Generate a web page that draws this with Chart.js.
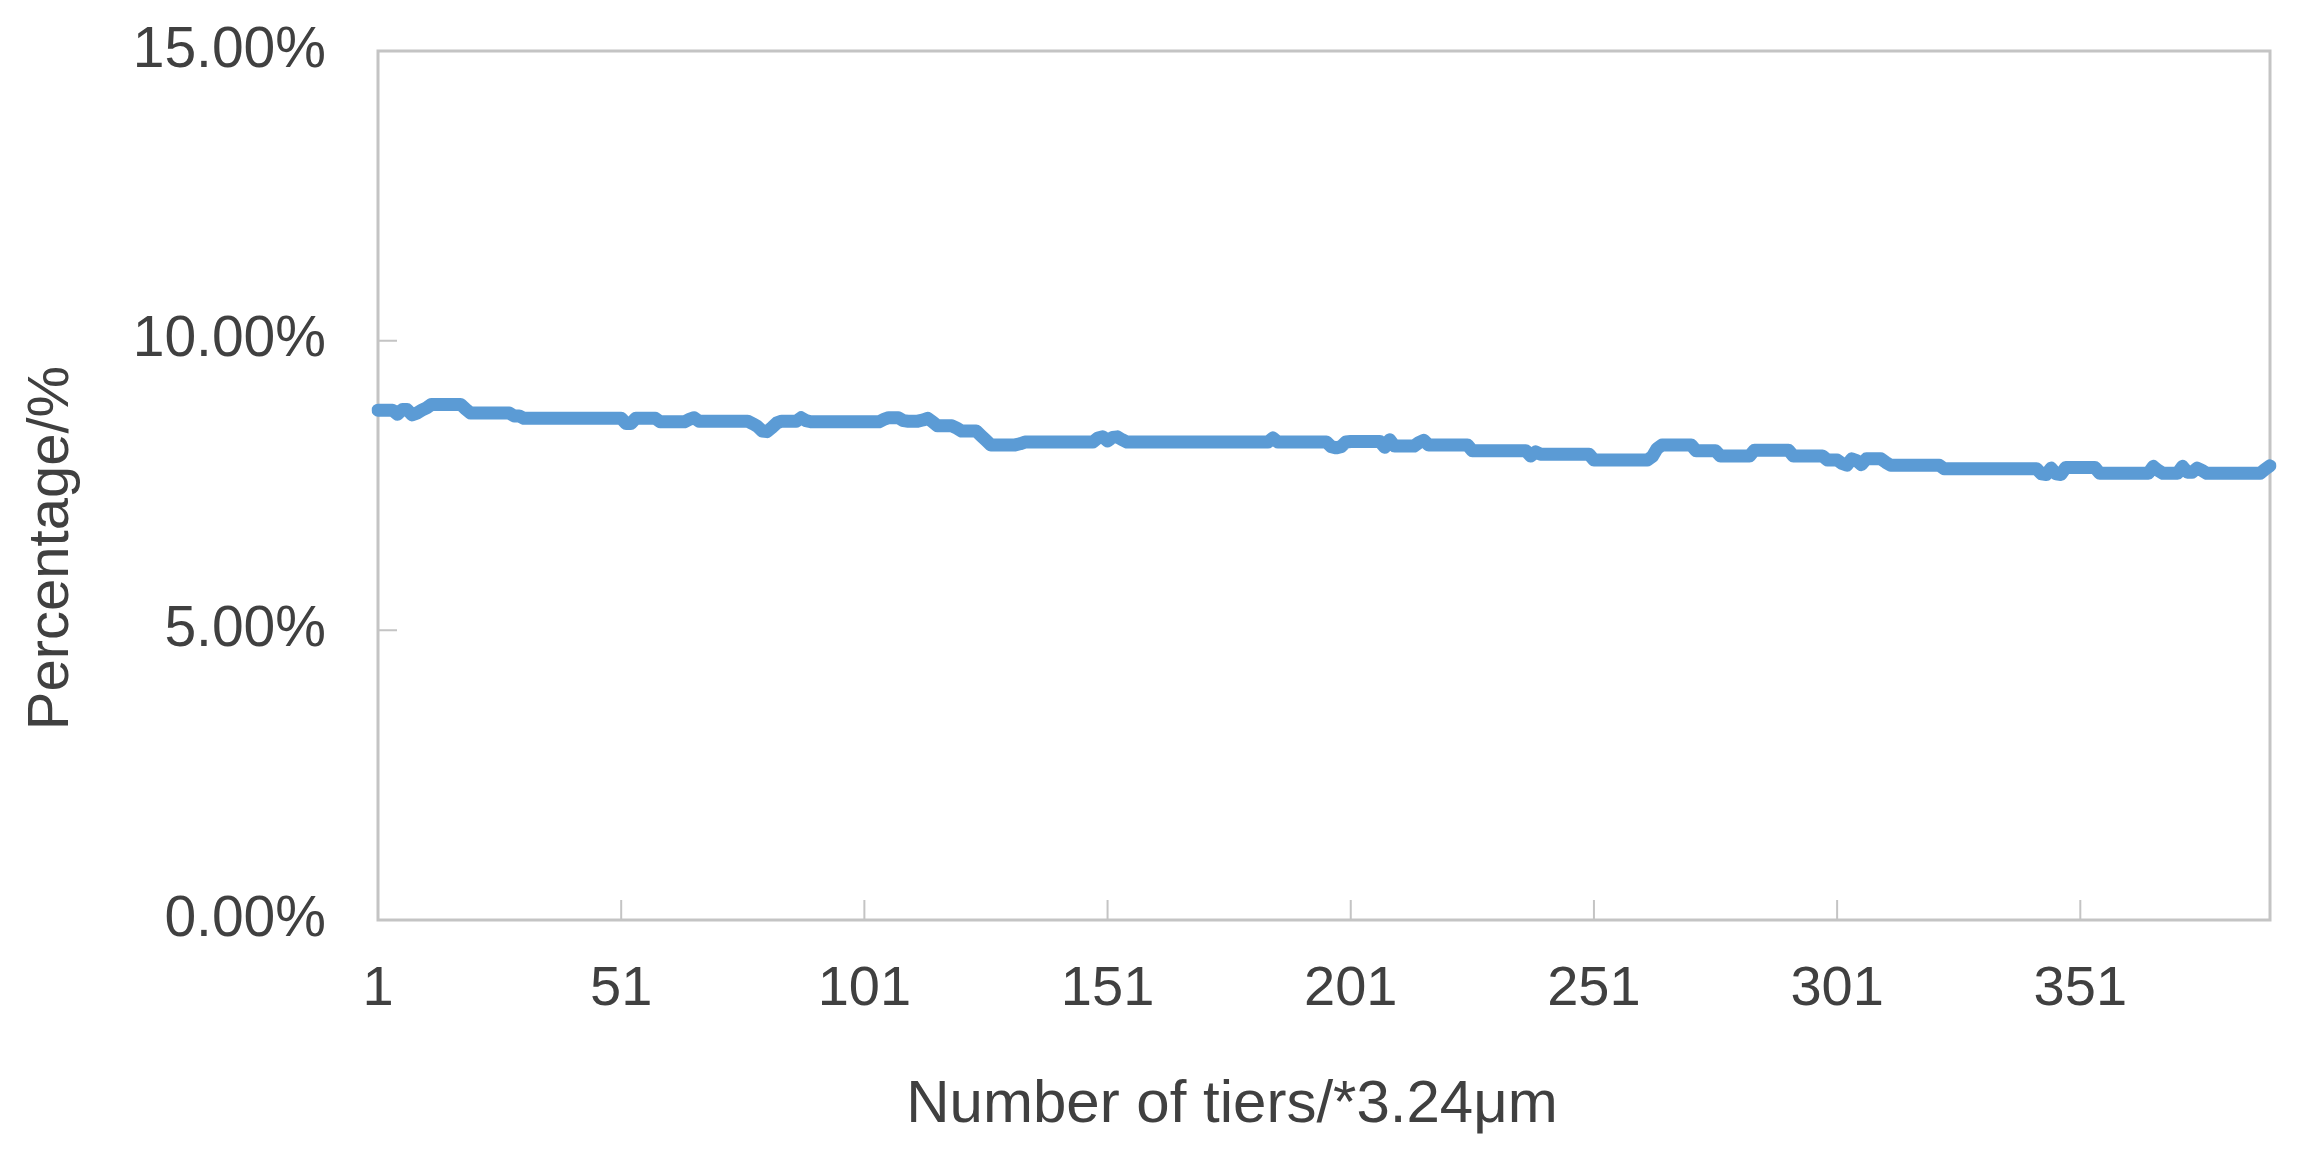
<!DOCTYPE html>
<html>
<head>
<meta charset="utf-8">
<script src="https://cdn.jsdelivr.net/npm/chart.js@4.4.1/dist/chart.umd.min.js"></script>
<style>
  html, body { margin: 0; padding: 0; background: #ffffff; }
  canvas { display: block; }
</style>
</head>
<body>
<canvas id="tiersChart" width="2300" height="1157"></canvas>
<script>
// tier index along the sample (1 .. 390)
const tiers = Array.from({ length: 390 }, (_, i) => String(i + 1));

// percentage per tier
const percentage = [
  8.80, 8.80, 8.80, 8.80, 8.73, 8.81, 8.81, 8.72, 8.75, 8.80,
  8.84, 8.90, 8.90, 8.90, 8.90, 8.90, 8.90, 8.90, 8.82, 8.75,
  8.75, 8.75, 8.75, 8.75, 8.75, 8.75, 8.75, 8.75, 8.70, 8.70,
  8.66, 8.66, 8.66, 8.66, 8.66, 8.66, 8.66, 8.66, 8.66, 8.66,
  8.66, 8.66, 8.66, 8.66, 8.66, 8.66, 8.66, 8.66, 8.66, 8.66,
  8.66, 8.57, 8.57, 8.66, 8.66, 8.66, 8.66, 8.66, 8.60, 8.60,
  8.60, 8.60, 8.60, 8.60, 8.64, 8.67, 8.61, 8.61, 8.61, 8.61,
  8.61, 8.61, 8.61, 8.61, 8.61, 8.61, 8.61, 8.57, 8.52, 8.44,
  8.43, 8.50, 8.58, 8.61, 8.61, 8.61, 8.61, 8.67, 8.62, 8.60,
  8.60, 8.60, 8.60, 8.60, 8.60, 8.60, 8.60, 8.60, 8.60, 8.60,
  8.60, 8.60, 8.60, 8.60, 8.64, 8.67, 8.67, 8.67, 8.62, 8.61,
  8.61, 8.61, 8.63, 8.66, 8.60, 8.53, 8.53, 8.53, 8.53, 8.49,
  8.44, 8.44, 8.44, 8.44, 8.36, 8.28, 8.20, 8.20, 8.20, 8.20,
  8.20, 8.20, 8.22, 8.25, 8.25, 8.25, 8.25, 8.25, 8.25, 8.25,
  8.25, 8.25, 8.25, 8.25, 8.25, 8.25, 8.25, 8.25, 8.32, 8.34,
  8.27, 8.33, 8.34, 8.29, 8.25, 8.25, 8.25, 8.25, 8.25, 8.25,
  8.25, 8.25, 8.25, 8.25, 8.25, 8.25, 8.25, 8.25, 8.25, 8.25,
  8.25, 8.25, 8.25, 8.25, 8.25, 8.25, 8.25, 8.25, 8.25, 8.25,
  8.25, 8.25, 8.25, 8.25, 8.32, 8.25, 8.25, 8.25, 8.25, 8.25,
  8.25, 8.25, 8.25, 8.25, 8.25, 8.25, 8.17, 8.15, 8.17, 8.25,
  8.26, 8.26, 8.26, 8.26, 8.26, 8.26, 8.26, 8.16, 8.29, 8.18,
  8.18, 8.18, 8.18, 8.18, 8.24, 8.28, 8.20, 8.20, 8.20, 8.20,
  8.20, 8.20, 8.20, 8.20, 8.20, 8.10, 8.10, 8.10, 8.10, 8.10,
  8.10, 8.10, 8.10, 8.10, 8.10, 8.10, 8.10, 8.01, 8.08, 8.04,
  8.04, 8.04, 8.04, 8.04, 8.04, 8.04, 8.04, 8.04, 8.04, 8.04,
  7.94, 7.94, 7.94, 7.94, 7.94, 7.94, 7.94, 7.94, 7.94, 7.94,
  7.94, 7.94, 8.00, 8.14, 8.20, 8.20, 8.20, 8.20, 8.20, 8.20,
  8.20, 8.10, 8.10, 8.10, 8.10, 8.10, 8.01, 8.01, 8.01, 8.01,
  8.01, 8.01, 8.01, 8.11, 8.11, 8.11, 8.11, 8.11, 8.11, 8.11,
  8.11, 8.01, 8.01, 8.01, 8.01, 8.01, 8.01, 8.01, 7.94, 7.94,
  7.94, 7.88, 7.85, 7.96, 7.93, 7.86, 7.96, 7.96, 7.96, 7.96,
  7.90, 7.85, 7.85, 7.85, 7.85, 7.85, 7.85, 7.85, 7.85, 7.85,
  7.85, 7.85, 7.79, 7.79, 7.79, 7.79, 7.79, 7.79, 7.79, 7.79,
  7.79, 7.79, 7.79, 7.79, 7.79, 7.79, 7.79, 7.79, 7.79, 7.79,
  7.79, 7.79, 7.70, 7.69, 7.80, 7.70, 7.69, 7.81, 7.81, 7.81,
  7.81, 7.81, 7.81, 7.81, 7.71, 7.71, 7.71, 7.71, 7.71, 7.71,
  7.71, 7.71, 7.71, 7.71, 7.71, 7.83, 7.76, 7.71, 7.71, 7.71,
  7.71, 7.83, 7.73, 7.73, 7.80, 7.76, 7.71, 7.71, 7.71, 7.71,
  7.71, 7.71, 7.71, 7.71, 7.71, 7.71, 7.71, 7.71, 7.78, 7.84
];

// y ticks in percent
const yTicks = [0, 5, 10, 15];
const xTitle = 'Number of tiers/*3.24μm';
const yTitle = 'Percentage/%';

const textColor = '#404040';
const frameColor = '#c4c4c4';

// box round the plot, with short tick marks pointing inwards
const frameAndTicks = {
  id: 'frameAndTicks',
  beforeDatasetsDraw(chart) {
    const { ctx, chartArea: a, scales: { x, y } } = chart;
    ctx.save();
    ctx.strokeStyle = frameColor;
    ctx.lineWidth = 3;
    ctx.strokeRect(a.left, a.top, a.right - a.left, a.bottom - a.top);
    ctx.lineWidth = 2;
    ctx.beginPath();
    x.ticks.forEach((t, i) => {
      if (!t.label) return;
      const px = x.getPixelForTick(i);
      ctx.moveTo(px, a.bottom);
      ctx.lineTo(px, a.bottom - 20);
    });
    y.ticks.forEach((t, i) => {
      const py = y.getPixelForTick(i);
      ctx.moveTo(a.left, py);
      ctx.lineTo(a.left + 19, py);
    });
    ctx.stroke();
    ctx.restore();
  }
};

// axis titles (the original sits them off-centre)
const axisTitles = {
  id: 'axisTitles',
  afterDraw(chart) {
    const { ctx, chartArea: a } = chart;
    ctx.save();
    ctx.fillStyle = textColor;
    ctx.font = '60px "Liberation Sans"';
    ctx.textAlign = 'center';
    ctx.textBaseline = 'alphabetic';
    ctx.fillText(xTitle, a.left + 854, 1122);
    ctx.translate(68, a.top + 497);
    ctx.rotate(-Math.PI / 2);
    ctx.font = '58px "Liberation Sans"';
    ctx.fillText(yTitle, 0, 0);
    ctx.restore();
  }
};

const ctx = document.getElementById('tiersChart').getContext('2d');
new Chart(ctx, {
  type: 'line',
  data: {
    labels: tiers,
    datasets: [{
      label: yTitle,
      data: percentage,
      borderColor: '#5b9bd5',
      borderWidth: 13,
      borderCapStyle: 'round',
      borderJoinStyle: 'round',
      pointRadius: 0,
      tension: 0,
      fill: false
    }]
  },
  options: {
    responsive: false,
    animation: false,
    devicePixelRatio: 1,
    layout: { padding: { top: 51, right: 30, left: 0, bottom: 0 } },
    plugins: {
      legend: { display: false },
      tooltip: { enabled: false }
    },
    scales: {
      x: {
        type: 'category',
        offset: false,
        grid: { display: false, drawTicks: false },
        border: { display: false },
        ticks: {
          autoSkip: false,
          maxRotation: 0,
          minRotation: 0,
          padding: 36,
          color: textColor,
          font: { family: '"Liberation Sans"', size: 56 },
          callback: (v, i) => (i % 50 === 0 ? tiers[i] : '')
        },
        afterFit: s => {
          s.height = 237;
          s.paddingLeft = 0;
          s.paddingRight = 0;
        }
      },
      y: {
        min: yTicks[0],
        max: yTicks[yTicks.length - 1],
        grid: { display: false, drawTicks: false },
        border: { display: false },
        afterBuildTicks: s => { s.ticks = yTicks.map(v => ({ value: v })); },
        ticks: {
          padding: 52,
          color: textColor,
          font: { family: '"Liberation Sans"', size: 57 },
          callback: v => v.toFixed(2) + '%'
        },
        afterFit: s => {
          s.width = 378;
          s.paddingTop = 0;
          s.paddingBottom = 0;
        }
      }
    }
  },
  plugins: [frameAndTicks, axisTitles]
});
</script>
</body>
</html>
